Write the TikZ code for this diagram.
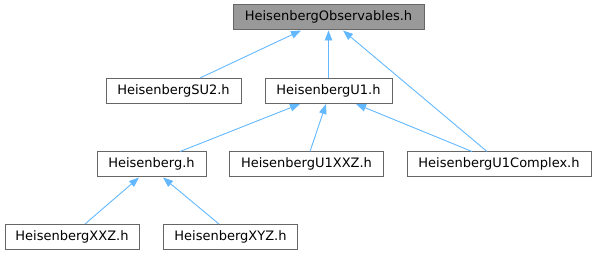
\documentclass[tikz,border=0pt]{standalone}
\usepackage{fontspec}
\setmainfont{DejaVu Sans}
\usetikzlibrary{arrows.meta}
\definecolor{edgeblue}{HTML}{63B8FF}
\definecolor{boxline}{HTML}{666666}
\definecolor{rootfill}{HTML}{999999}
\tikzset{
  filebox/.style={draw=boxline, line width=1pt, fill=white, inner sep=0pt,
    minimum height=25pt, font=\fontsize{13}{15}\selectfont,
    text height=9.5pt, text depth=2.5pt},
  rootbox/.style={filebox, fill=rootfill},
  incl/.style={draw=edgeblue, line width=0.9pt,
    -{Triangle[length=10pt,width=7.5pt]}}
}
\begin{document}
\begin{tikzpicture}[x=1pt,y=-1pt]
\useasboundingbox (0,0) rectangle (597,256);
% headers
\node[rootbox, minimum width=191pt] (obs)  at (328.5,17.5)  {HeisenbergObservables.h};
\node[filebox, minimum width=135pt] (su2)  at (173.5,91)    {HeisenbergSU2.h};
\node[filebox, minimum width=127pt] (u1)   at (328.5,91)    {HeisenbergU1.h};
\node[filebox, minimum width=109pt] (heis) at (151.5,164.5) {Heisenberg.h};
\node[filebox, minimum width=154pt] (uxxz) at (306.5,164.5) {HeisenbergU1XXZ.h};
\node[filebox, minimum width=184pt] (cplx) at (499,164.5)   {HeisenbergU1Complex.h};
\node[filebox, minimum width=134pt] (xxz)  at (72,237)      {HeisenbergXXZ.h};
\node[filebox, minimum width=134pt] (xyz)  at (230.5,237)   {HeisenbergXYZ.h};
% include relations
\draw[incl] ([xshift=26.5pt]su2.north)  -- ([xshift=-27.5pt]obs.south);
\draw[incl] (u1.north) -- (obs.south);
\draw[incl] ([xshift=-12pt]cplx.north)  -- ([xshift=14.5pt]obs.south);
\draw[incl] ([xshift=28.5pt]heis.north) -- ([xshift=-28.5pt]u1.south);
\draw[incl] ([xshift=3.5pt]uxxz.north)  -- ([xshift=-2.5pt]u1.south);
\draw[incl] ([xshift=-27pt]cplx.north)  -- ([xshift=27.5pt]u1.south);
\draw[incl] ([xshift=13pt]xxz.north)    -- ([xshift=-12.5pt]heis.south);
\draw[incl] ([xshift=-11.5pt]xyz.north) -- ([xshift=11.5pt]heis.south);
\end{tikzpicture}
\end{document}
